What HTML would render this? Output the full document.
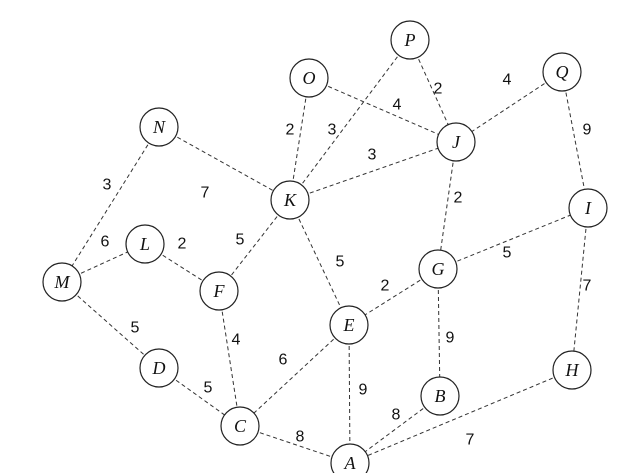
<!DOCTYPE html>
<html><head><meta charset="utf-8"><style>
html,body{margin:0;padding:0;background:#fff;}
svg{display:block;}
.n{fill:#fff;stroke:#222;stroke-width:1.2;}
.e{stroke:#333;stroke-width:1;stroke-dasharray:4,3;fill:none;}
.t{font-family:"Liberation Serif",serif;font-style:italic;font-size:18px;fill:#111;text-anchor:middle;dominant-baseline:central;}
.w{font-family:"Liberation Sans",sans-serif;font-size:16px;fill:#111;text-anchor:middle;dominant-baseline:central;}
</style></head><body>
<svg width="636" height="473" viewBox="0 0 636 473" xmlns="http://www.w3.org/2000/svg">
<g class="e">
<line x1="410" y1="40" x2="290" y2="200"/>
<line x1="410" y1="40" x2="456" y2="142"/>
<line x1="309" y1="78" x2="290" y2="200"/>
<line x1="309" y1="78" x2="456" y2="142"/>
<line x1="290" y1="200" x2="456" y2="142"/>
<line x1="562" y1="72" x2="456" y2="142"/>
<line x1="562" y1="72" x2="588" y2="208"/>
<line x1="159" y1="127" x2="290" y2="200"/>
<line x1="159" y1="127" x2="62" y2="282"/>
<line x1="290" y1="200" x2="219" y2="291"/>
<line x1="290" y1="200" x2="349" y2="325"/>
<line x1="456" y1="142" x2="438" y2="269"/>
<line x1="438" y1="269" x2="588" y2="208"/>
<line x1="438" y1="269" x2="349" y2="325"/>
<line x1="438" y1="269" x2="440" y2="396"/>
<line x1="62" y1="282" x2="145" y2="244"/>
<line x1="145" y1="244" x2="219" y2="291"/>
<line x1="62" y1="282" x2="159" y2="368"/>
<line x1="219" y1="291" x2="240" y2="426"/>
<line x1="159" y1="368" x2="240" y2="426"/>
<line x1="349" y1="325" x2="240" y2="426"/>
<line x1="349" y1="325" x2="350" y2="463"/>
<line x1="240" y1="426" x2="350" y2="463"/>
<line x1="440" y1="396" x2="350" y2="463"/>
<line x1="588" y1="208" x2="572" y2="370"/>
<line x1="572" y1="370" x2="350" y2="463"/>
</g>
<g>
<circle class="n" cx="410" cy="40" r="19"/><text class="t" x="410" y="40">P</text>
<circle class="n" cx="309" cy="78" r="19"/><text class="t" x="309" y="78">O</text>
<circle class="n" cx="562" cy="72" r="19"/><text class="t" x="562" y="72">Q</text>
<circle class="n" cx="159" cy="127" r="19"/><text class="t" x="159" y="127">N</text>
<circle class="n" cx="456" cy="142" r="19"/><text class="t" x="456" y="142">J</text>
<circle class="n" cx="290" cy="200" r="19"/><text class="t" x="290" y="200">K</text>
<circle class="n" cx="588" cy="208" r="19"/><text class="t" x="588" y="208">I</text>
<circle class="n" cx="145" cy="244" r="19"/><text class="t" x="145" y="244">L</text>
<circle class="n" cx="62" cy="282" r="19"/><text class="t" x="62" y="282">M</text>
<circle class="n" cx="219" cy="291" r="19"/><text class="t" x="219" y="291">F</text>
<circle class="n" cx="438" cy="269" r="19"/><text class="t" x="438" y="269">G</text>
<circle class="n" cx="349" cy="325" r="19"/><text class="t" x="349" y="325">E</text>
<circle class="n" cx="159" cy="368" r="19"/><text class="t" x="159" y="368">D</text>
<circle class="n" cx="572" cy="370" r="19"/><text class="t" x="572" y="370">H</text>
<circle class="n" cx="440" cy="396" r="19"/><text class="t" x="440" y="396">B</text>
<circle class="n" cx="240" cy="426" r="19"/><text class="t" x="240" y="426">C</text>
<circle class="n" cx="350" cy="463" r="19"/><text class="t" x="350" y="463">A</text>
</g>
<g>
<text class="w" x="438" y="89">2</text>
<text class="w" x="507" y="80">4</text>
<text class="w" x="587" y="130">9</text>
<text class="w" x="290" y="130">2</text>
<text class="w" x="332" y="130">3</text>
<text class="w" x="397" y="105">4</text>
<text class="w" x="372" y="155">3</text>
<text class="w" x="205" y="193">7</text>
<text class="w" x="107" y="185">3</text>
<text class="w" x="458" y="198">2</text>
<text class="w" x="240" y="240">5</text>
<text class="w" x="340" y="262">5</text>
<text class="w" x="507" y="253">5</text>
<text class="w" x="105" y="242">6</text>
<text class="w" x="182" y="244">2</text>
<text class="w" x="385" y="286">2</text>
<text class="w" x="587" y="286">7</text>
<text class="w" x="135" y="328">5</text>
<text class="w" x="236" y="340">4</text>
<text class="w" x="450" y="338">9</text>
<text class="w" x="283" y="360">6</text>
<text class="w" x="208" y="388">5</text>
<text class="w" x="363" y="390">9</text>
<text class="w" x="396" y="415">8</text>
<text class="w" x="300" y="437">8</text>
<text class="w" x="470" y="440">7</text>
</g>
</svg>
</body></html>
